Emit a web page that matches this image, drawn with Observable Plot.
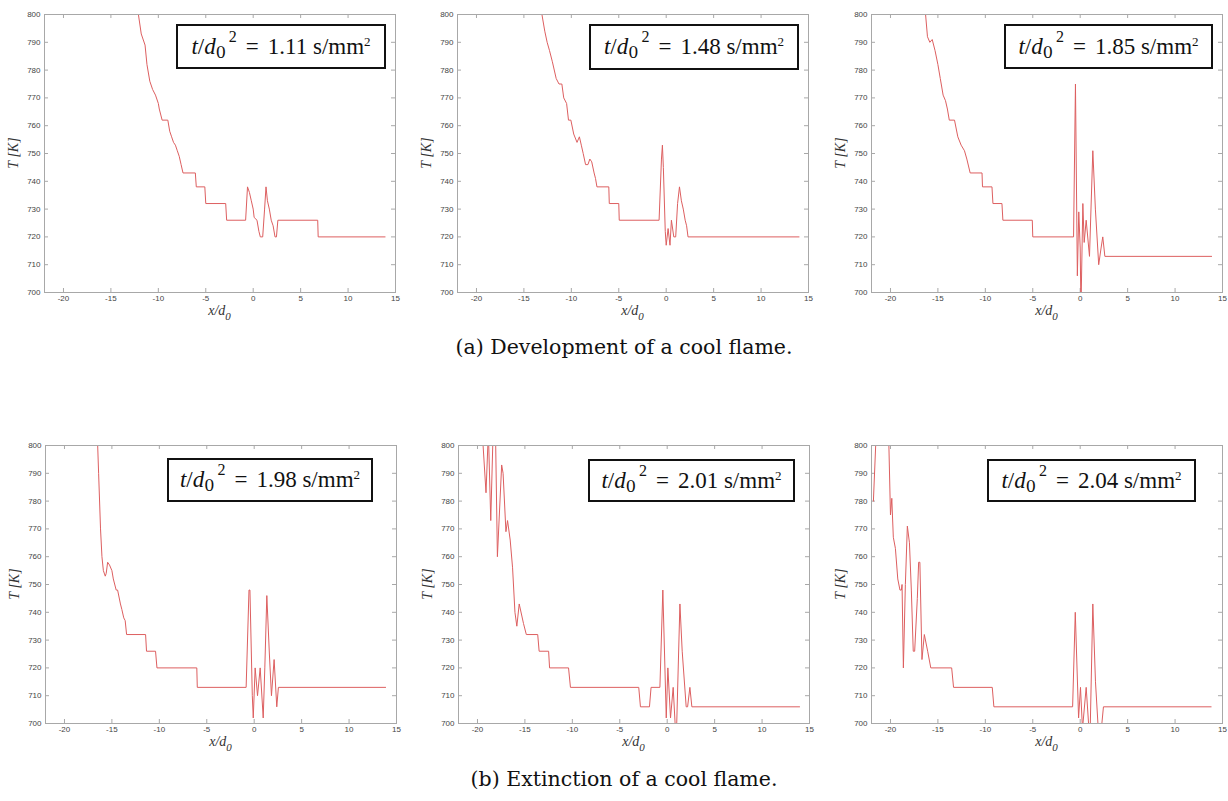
<!DOCTYPE html>
<html>
<head>
<meta charset="utf-8">
<script src="https://cdn.jsdelivr.net/npm/d3@7"></script>
<script src="https://cdn.jsdelivr.net/npm/@observablehq/plot@0.6"></script>
<style>
  html, body { margin: 0; padding: 0; background: #fff; }
  #root { position: relative; width: 1228px; height: 801px; overflow: hidden; background: #fff; }
  .panel { position: absolute; }
  .box { position: absolute; border: 2px solid #111; box-sizing: border-box; display: flex; align-items: center; justify-content: center;
         font-family: "Liberation Serif", "Times New Roman", serif; font-size: 23px; color: #111; white-space: nowrap; background: #fff; }
  .box i { font-style: italic; }
  .box .eq { margin: 0 9px; }
  .box sub { font-size: 16px; vertical-align: -4px; line-height: 0; font-family: "DejaVu Serif", serif; }
  .box sup { font-size: 16px; vertical-align: 12px; line-height: 0; margin-left: 3px; }
  .box .u { font-size: 13px; vertical-align: 8px; line-height: 0; }
  .cap { position: absolute; left: 0; width: 1248px; text-align: center; font-family: "DejaVu Serif", serif; font-size: 20.5px; color: #111; }
</style>
</head>
<body>
<div id="root"></div>
<script>
// ---- data ----
const xTicks = [-20, -15, -10, -5, 0, 5, 10, 15];
const yTicks = [700, 710, 720, 730, 740, 750, 760, 770, 780, 790, 800];
const times = ["1.11", "1.48", "1.85", "1.98", "2.01", "2.04"];
const captions = ["(a) Development of a cool flame.", "(b) Extinction of a cool flame."];

const panel1 = [[-12.1,800],[-11.8,793],[-11.4,789],[-11.2,782],[-10.9,776],[-10.6,773],[-10.3,771],[-10.0,768],[-9.9,766],[-9.6,762],[-9.0,762],[-8.8,758],[-8.6,756],[-8.4,754],[-8.2,753],[-8.0,751],[-7.8,749],[-7.6,746],[-7.4,743],[-6.1,743],[-6.0,738],[-5.1,738],[-5.0,732],[-2.9,732],[-2.8,726],[-0.8,726],[-0.6,738],[-0.4,736],[-0.2,733],[0,730],[0.1,727],[0.4,726],[0.6,722],[0.75,720],[1.0,720],[1.2,730],[1.35,738],[1.5,733],[1.7,730],[1.9,726],[2.1,724],[2.3,720],[2.45,720],[2.6,726],[6.8,726],[6.85,720],[13.9,720]];
const panel2 = [[-13.1,800],[-12.8,794],[-12.55,790],[-12.3,787],[-12.0,783],[-11.6,777],[-11.3,775],[-11.0,775],[-10.8,770],[-10.5,768],[-10.3,762],[-10.05,762],[-9.75,757],[-9.4,754],[-9.15,756],[-8.95,753],[-8.75,750],[-8.5,746],[-8.25,746],[-8.05,748],[-7.85,747],[-7.6,743],[-7.45,741],[-7.3,738],[-6.05,738],[-6.0,732],[-5.0,732],[-4.95,726],[-0.75,726],[-0.5,748],[-0.4,753],[-0.3,745],[-0.1,722],[0,717],[0.2,723],[0.4,717],[0.55,726],[0.8,720],[1.0,720],[1.2,732],[1.4,738],[1.6,733],[1.8,730],[2.0,726],[2.15,724],[2.3,720],[14.0,720]];
const panel3 = [[-16.3,800],[-16.1,792],[-15.85,790],[-15.6,791],[-15.3,787],[-15.0,782],[-14.75,777],[-14.45,771],[-14.2,769],[-14.0,766],[-13.8,762],[-13.25,762],[-12.9,756],[-12.55,753],[-12.2,751],[-11.95,748],[-11.6,743],[-10.35,743],[-10.3,738],[-9.3,738],[-9.2,732],[-8.25,732],[-8.15,726],[-5.05,726],[-5.0,720],[-0.7,720],[-0.5,775],[-0.3,706],[-0.15,729],[0,716],[0.08,694],[0.28,732],[0.42,718],[0.63,726],[0.98,713],[1.33,751],[1.6,730],[1.95,710],[2.2,716],[2.38,720],[2.6,713],[13.85,713]];
const panel4 = [[-16.5,800],[-16.4,790],[-16.2,770],[-16.05,760],[-15.9,755],[-15.7,753],[-15.6,754],[-15.45,758],[-15.25,757],[-15.0,755],[-14.85,752],[-14.55,748],[-14.4,748],[-14.1,743],[-13.95,741],[-13.75,738],[-13.6,737],[-13.45,732],[-11.45,732],[-11.35,726],[-10.4,726],[-10.25,720],[-6.05,720],[-6.0,713],[-0.85,713],[-0.55,748],[-0.45,748],[-0.2,710],[-0.1,702],[0.1,720],[0.35,710],[0.63,720],[0.95,702],[1.12,720],[1.33,746],[1.6,725],[1.82,710],[2.1,723],[2.38,706],[2.55,713],[13.85,713]];
const panel5 = [[-19.5,805],[-19.1,783],[-18.85,805],[-18.6,773],[-18.35,805],[-18.1,805],[-17.9,760],[-17.45,793],[-17.3,790],[-17.0,769],[-16.83,773],[-16.55,766],[-16.3,756],[-16.05,740],[-15.85,735],[-15.6,743],[-15.15,736],[-14.85,732],[-13.65,732],[-13.5,726],[-12.5,726],[-12.4,720],[-10.4,720],[-10.2,713],[-3.0,713],[-2.82,706],[-1.87,706],[-1.7,713],[-0.77,713],[-0.46,748],[-0.1,702],[0.07,720],[0.35,702],[0.63,713],[0.88,697],[0.98,697],[1.34,743],[1.58,726],[2.0,706],[2.15,706],[2.39,713],[2.6,706],[13.95,706]];
const panel6 = [[-21.8,780],[-21.5,805],[-20.2,805],[-20.0,775],[-19.86,781],[-19.7,767],[-19.48,763],[-19.23,752],[-19.0,748],[-18.85,748],[-18.78,750],[-18.64,720],[-18.43,750],[-18.22,771],[-18.0,765],[-17.8,748],[-17.6,726],[-17.45,726],[-17.17,745],[-17.03,758],[-16.9,758],[-16.68,723],[-16.43,732],[-16.08,726],[-15.75,720],[-13.55,720],[-13.35,713],[-9.27,713],[-9.1,706],[-0.8,706],[-0.52,740],[-0.17,702],[0.03,713],[0.24,698],[0.63,713],[0.94,697],[1.05,697],[1.33,743],[1.61,715],[1.92,697],[2.2,697],[2.45,706],[13.8,706]];

const panels = [panel1, panel2, panel3, panel4, panel5, panel6];

// ---- layout ----
const PW = 351, PH = 278, ML = 40, MR = 6, MT = 10, MB = 40;
const pos = [[4, 4], [417, 4], [831, 4], [5, 435], [418, 435], [831, 435]];
const boxes = [[176, 24, 210, 45], [589, 24, 210, 46], [1004, 24, 209, 45], [167, 458, 206, 44], [588, 459, 207, 43], [987, 459, 209, 43]];
const frameColor = "#a8a8a8";

const root = document.getElementById("root");

panels.forEach((pts, i) => {
  const data = pts.map(([x, T]) => ({x, T}));
  const svg = Plot.plot({
    width: ML + PW + MR, height: MT + PH + MB,
    marginLeft: ML, marginRight: MR, marginTop: MT, marginBottom: MB,
    x: {domain: [-22, 15]},
    y: {domain: [700, 800]},
    style: {fontFamily: "Liberation Sans, Arial, sans-serif", fontSize: "8px", color: "#444", background: "transparent", overflow: "visible"},
    marks: [
      Plot.tickY(yTicks, {y: d => d, stroke: frameColor, insetRight: PW - 4}),
      Plot.tickY(yTicks, {y: d => d, stroke: frameColor, insetLeft: PW - 4}),
      Plot.tickX(xTicks, {x: d => d, stroke: frameColor, insetTop: PH - 4}),
      Plot.tickX(xTicks, {x: d => d, stroke: frameColor, insetBottom: PH - 4}),
      Plot.axisY({ticks: yTicks, tickSize: 0, tickPadding: 4, label: null, tickFormat: d => String(d)}),
      Plot.axisX({ticks: xTicks, tickSize: 0, tickPadding: 3, label: null, tickFormat: d => String(d)}),
      Plot.line(data, {x: "x", y: "T", stroke: "#dd5f60", strokeWidth: 1, clip: true}),
      Plot.frame({stroke: frameColor})
    ]
  });
  const s = d3.select(svg);
  s.append("text")
    .attr("transform", `translate(${ML - 26},${MT + PH / 2}) rotate(-90)`)
    .attr("text-anchor", "middle")
    .style("font-family", "Liberation Serif, serif").style("font-style", "italic").style("font-size", "14px").style("fill", "#333")
    .text("T [K]");
  const xl = s.append("text")
    .attr("x", ML + PW / 2).attr("y", MT + PH + 23)
    .attr("text-anchor", "middle")
    .style("font-family", "Liberation Serif, serif").style("font-style", "italic").style("font-size", "14px").style("fill", "#333");
  xl.append("tspan").text("x/d");
  xl.append("tspan").attr("dy", 5).style("font-size", "11px").text("0");

  const wrap = document.createElement("div");
  wrap.className = "panel";
  wrap.style.left = pos[i][0] + "px";
  wrap.style.top = pos[i][1] + "px";
  wrap.appendChild(svg);
  root.appendChild(wrap);

  const b = boxes[i];
  const box = document.createElement("div");
  box.className = "box";
  box.style.left = b[0] + "px"; box.style.top = b[1] + "px";
  box.style.width = b[2] + "px"; box.style.height = b[3] + "px";
  box.innerHTML = `<span><i>t</i>/<i>d</i><sub>0</sub><sup>2</sup><span class="eq">=</span>${times[i]} s/mm<span class="u">2</span></span>`;
  root.appendChild(box);
});

captions.forEach((c, i) => {
  const d = document.createElement("div");
  d.className = "cap";
  d.style.top = (i === 0 ? 335 : 767) + "px";
  d.textContent = c;
  root.appendChild(d);
});
</script>
</body>
</html>
